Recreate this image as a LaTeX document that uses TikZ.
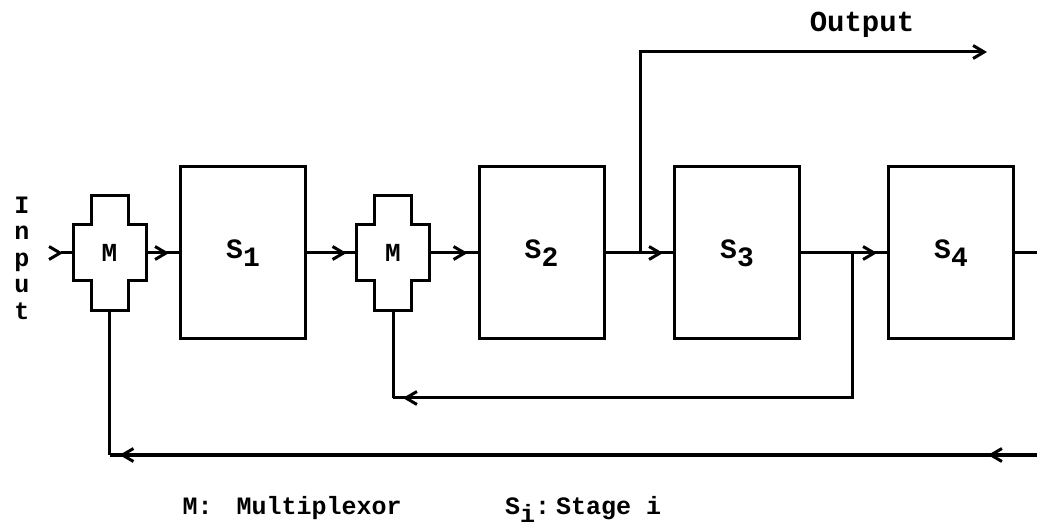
\documentclass[tikz,border=0pt]{standalone}
\usepackage{fontspec}
\setmainfont{Liberation Mono}
\usetikzlibrary{arrows.meta,decorations.markings,calc}

\begin{document}
\begin{tikzpicture}[x=1pt,y=-1pt,
    wire/.style={line width=3pt},
    >={Straight Barb[length=11pt,width=13pt]},
    feed/.style={wire, decoration={markings, mark=at position -10pt with {\arrow{>}}}, postaction={decorate}},
    stagebox/.style={draw, line width=3pt, minimum width=125pt, minimum height=172pt, inner sep=0pt},
    muxnode/.style={minimum width=73pt, minimum height=115pt, inner sep=0pt, outer sep=0pt, font=\fontsize{26}{30}\selectfont\bfseries},
    lbl/.style={font=\fontsize{25}{30}\selectfont\bfseries}]
    \useasboundingbox (0,0) rectangle (1037,529);

    % Multiplexors and stages
    \node[muxnode] (m1) at (109.5,253) {M};
    \draw[wire] ([xshift=-18.5pt]m1.north) -- ([xshift=18.5pt]m1.north)
        |- ([yshift=28pt]m1.east) -- ([yshift=-28pt]m1.east)
        -| ([xshift=18.5pt]m1.south) -- ([xshift=-18.5pt]m1.south)
        |- ([yshift=-28pt]m1.west) -- ([yshift=28pt]m1.west)
        -| ([xshift=-18.5pt]m1.north) -- cycle;
    \node[stagebox, font=\fontsize{28}{32}\selectfont\bfseries] (s1) at (243,253) {S\raisebox{-8pt}{1}};

    \node[muxnode] (m2) at (393,253) {M};
    \draw[wire] ([xshift=-18.5pt]m2.north) -- ([xshift=18.5pt]m2.north)
        |- ([yshift=28pt]m2.east) -- ([yshift=-28pt]m2.east)
        -| ([xshift=18.5pt]m2.south) -- ([xshift=-18.5pt]m2.south)
        |- ([yshift=-28pt]m2.west) -- ([yshift=28pt]m2.west)
        -| ([xshift=-18.5pt]m2.north) -- cycle;
    \node[stagebox, font=\fontsize{28}{32}\selectfont\bfseries] (s2) at (541.5,253) {S\raisebox{-8pt}{2}};
    \node[stagebox, font=\fontsize{28}{32}\selectfont\bfseries] (s3) at (737,253) {S\raisebox{-8pt}{3}};
    \node[stagebox, font=\fontsize{28}{32}\selectfont\bfseries] (s4) at (951,253) {S\raisebox{-8pt}{4}};

    % Forward path
    \node[font=\fontsize{25}{26.5}\selectfont\bfseries, align=center] (inlbl) at (22,258) {I\\n\\p\\u\\t};
    \coordinate (inp) at (61,253);
    \draw[feed] (inp) -- (m1.west);
    \draw[feed] (m1.east) -- (s1.west);
    \draw[feed] (s1.east) -- (m2.west);
    \draw[feed] (m2.east) -- (s2.west);
    \draw[feed] (s2.east) -- (s3.west);
    \draw[feed] (s3.east) -- (s4.west);
    \coordinate (rout) at (1040,253);
    \draw[wire] (s4.east) -- (rout);

    % Output tap
    \coordinate (b1) at (640,253);
    \coordinate (outp) at (987,52);
    \draw[wire,->] (b1) |- (outp);
    \node[font=\fontsize{29}{34}\selectfont\bfseries] (outlbl) at (862,25) {Output};

    % Feedback paths
    \coordinate (b2) at (852,253);
    \coordinate (c2) at (393,398);
    \draw[feed] (b2) |- (c2);
    \draw[wire] (c2) -- (m2.south);

    \coordinate (r2) at (1040,455);
    \coordinate (c1) at (109.5,455);
    \draw[wire, decoration={markings, mark=at position 52pt with {\arrow{>}}, mark=at position -10pt with {\arrow{>}}}, postaction={decorate}] (r2) -- (c1);
    \draw[wire] (c1) -- (m1.south);

    % Legend
    \node[lbl, anchor=base west] (mkey) at (179,514) {M:};
    \node[lbl, anchor=base west] (mtext) at (233,514) {Multiplexor};
    \node[lbl, anchor=base west, inner sep=0pt] (skey) at (505,514) {S\raisebox{-8pt}{i}:};
    \node[lbl, anchor=base west, inner sep=0pt] (stext) at (556,514) {Stage i};
\end{tikzpicture}
\end{document}
